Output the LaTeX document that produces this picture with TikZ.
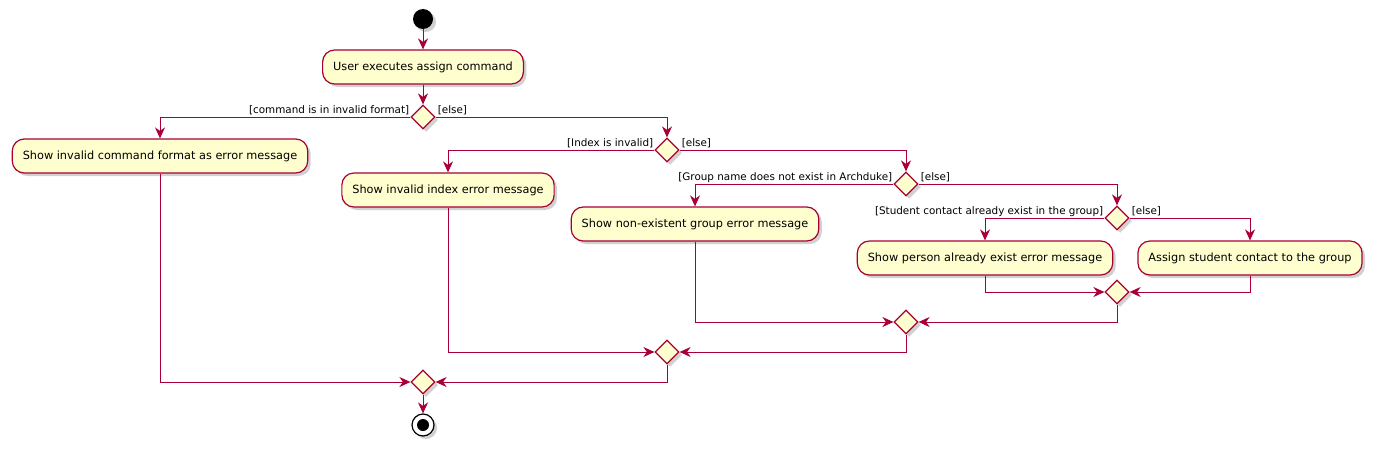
\documentclass[tikz,border=0pt]{standalone}
\usepackage{fontspec}
\setmainfont{DejaVu Sans}
\usetikzlibrary{shapes.geometric,arrows.meta,shadows}
\definecolor{umlred}{HTML}{A80036}
\definecolor{umlfill}{HTML}{FEFECE}
\begin{document}
\begin{tikzpicture}[x=1pt,y=-1pt,
  shad/.style={drop shadow={opacity=0.3,shadow xshift=3pt,shadow yshift=-3pt,fill=black!60}},
  act/.style={draw=umlred,fill=umlfill,line width=1.2pt,rounded corners=12pt,minimum height=34pt,inner xsep=10.5pt,font=\fontsize{11.3}{13}\selectfont,shad},
  dia/.style={diamond,draw=umlred,fill=umlfill,line width=1.2pt,minimum width=24pt,minimum height=24pt,inner sep=0pt,shad},
  lbl/.style={font=\fontsize{10.4}{12}\selectfont,inner sep=0pt},
  arr/.style={draw=umlred,line width=1pt,-{Stealth[length=11pt,width=10pt,inset=3.5pt]}},
]
\useasboundingbox (0,0) rectangle (1380,452);
\node[circle,fill=black,minimum size=20pt,inner sep=0pt,shad] (start) at (423,19) {};
\node[act] (a0) at (423,67) {User executes assign command};
\node[dia] (d1) at (423,117) {};
\node[act] (a1) at (160,156) {Show invalid command format as error message};
\node[dia] (d2) at (667,150) {};
\node[act] (a2) at (448,190) {Show invalid index error message};
\node[dia] (d3) at (906,184) {};
\node[act] (a3) at (695,224) {Show non-existent group error message};
\node[dia] (d4) at (1117,218) {};
\node[act] (a4) at (985,258) {Show person already exist error message};
\node[act] (a5) at (1250,258) {Assign student contact to the group};
\node[dia] (d5) at (1117,292) {};
\node[dia] (d6) at (906,322) {};
\node[dia] (d7) at (667,352) {};
\node[dia] (d8) at (423,382) {};
\node[circle,draw=black,line width=1.2pt,fill=white,minimum size=22pt,inner sep=0pt,shad] (end) at (423,425) {};
\node[circle,fill=black,minimum size=12pt,inner sep=0pt] (endin) at (end) {};
% labels
\node[lbl,anchor=base east] (l1a) at ([xshift=-1pt,yshift=3.5pt]d1.west) {[command is in invalid format]};
\node[lbl,anchor=base west] (l1b) at ([xshift=2pt,yshift=3.5pt]d1.east) {[else]};
\node[lbl,anchor=base east] (l2a) at ([xshift=-1pt,yshift=3.5pt]d2.west) {[Index is invalid]};
\node[lbl,anchor=base west] (l2b) at ([xshift=2pt,yshift=3.5pt]d2.east) {[else]};
\node[lbl,anchor=base east] (l3a) at ([xshift=-1pt,yshift=3.5pt]d3.west) {[Group name does not exist in Archduke]};
\node[lbl,anchor=base west] (l3b) at ([xshift=2pt,yshift=3.5pt]d3.east) {[else]};
\node[lbl,anchor=base east] (l4a) at ([xshift=-1pt,yshift=3.5pt]d4.west) {[Student contact already exist in the group]};
\node[lbl,anchor=base west] (l4b) at ([xshift=2pt,yshift=3.5pt]d4.east) {[else]};
% edges
\draw[arr] (start) -- (a0);
\draw[arr] (a0) -- (d1);
\draw[arr] (d1.west) -| (a1.north);
\draw[arr] (d1.east) -| (d2.north);
\draw[arr] (d2.west) -| (a2.north);
\draw[arr] (d2.east) -| (d3.north);
\draw[arr] (d3.west) -| (a3.north);
\draw[arr] (d3.east) -| (d4.north);
\draw[arr] (d4.west) -| (a4.north);
\draw[arr] (d4.east) -| (a5.north);
\draw[arr] (a4.south) |- (d5.west);
\draw[arr] (a5.south) |- (d5.east);
\draw[arr] (d5.south) |- (d6.east);
\draw[arr] (a3.south) |- (d6.west);
\draw[arr] (d6.south) |- (d7.east);
\draw[arr] (a2.south) |- (d7.west);
\draw[arr] (d7.south) |- (d8.east);
\draw[arr] (a1.south) |- (d8.west);
\draw[arr] (d8) -- (end);
\end{tikzpicture}
\end{document}
